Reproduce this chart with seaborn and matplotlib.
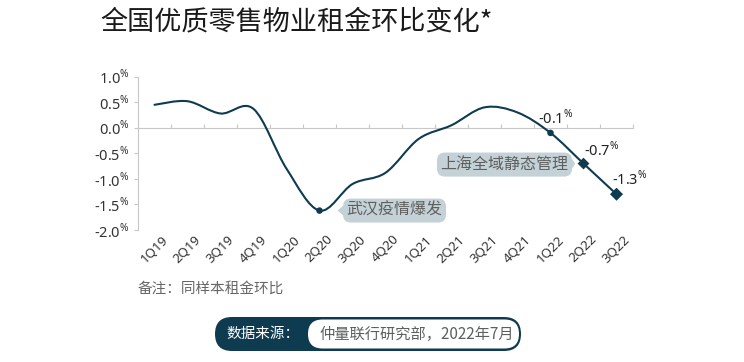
import numpy as np
import seaborn as sns
import matplotlib.pyplot as plt
from matplotlib.path import Path
from matplotlib.patches import PathPatch, FancyBboxPatch

# --- data ---
quarters = ["1Q19", "2Q19", "3Q19", "4Q19", "1Q20", "2Q20", "3Q20", "4Q20",
            "1Q21", "2Q21", "3Q21", "4Q21", "1Q22", "2Q22", "3Q22"]
rent_change = [0.45, 0.52, 0.28, 0.37, -0.80, -1.62, -1.10, -0.88,
               -0.22, 0.05, 0.40, 0.30, -0.10, -0.70, -1.30]
y_ticks = [1.0, 0.5, 0.0, -0.5, -1.0, -1.5, -2.0]
value_labels = {"1Q22": "-0.1", "2Q22": "-0.7", "3Q22": "-1.3"}

title = "全国优质零售物业租金环比变化*"
note = "备注：同样本租金环比"
source_head = "数据来源："
source_body = "仲量联行研究部，2022年7月"

LINE = "#0f3b50"
BOX = "#c4d2d7"
GREY_TXT = "#5f5f5f"
AXIS = "#c8c8c8"

sns.set_theme(style="white")
plt.rcParams["font.family"] = ["Noto Sans CJK SC", "DejaVu Sans"]
plt.rcParams["mathtext.fontset"] = "custom"
plt.rcParams["mathtext.rm"] = "Noto Sans"

fig = plt.figure(figsize=(7.44, 3.62), dpi=100)
ax = fig.add_axes([138 / 744, 1 - 230 / 362, 495 / 744, 153.3 / 362])

# smooth curve through the points (Catmull-Rom as cubic Bezier segments)
xs = np.arange(len(quarters), dtype=float)
ys = np.array(rent_change)
px = np.concatenate([[xs[0]], xs, [xs[-1]]])
py = np.concatenate([[ys[0]], ys, [ys[-1]]])
verts = [(xs[0], ys[0])]
codes = [Path.MOVETO]
for i in range(1, len(px) - 2):
    c1 = (px[i] + (px[i + 1] - px[i - 1]) / 6, py[i] + (py[i + 1] - py[i - 1]) / 6)
    c2 = (px[i + 1] - (px[i + 2] - px[i]) / 6, py[i + 1] - (py[i + 2] - py[i]) / 6)
    verts += [c1, c2, (px[i + 1], py[i + 1])]
    codes += [Path.CURVE4] * 3
ax.add_patch(PathPatch(Path(verts, codes), fc="none", ec=LINE, lw=1.5,
                       capstyle="round", zorder=3))

# highlighted points
idx_circle = [quarters.index("2Q20"), quarters.index("1Q22")]
sns.scatterplot(x=xs[idx_circle], y=ys[idx_circle], ax=ax, color=LINE,
                marker="o", s=22, edgecolor="none", zorder=4)
idx_diam = [quarters.index("2Q22"), quarters.index("3Q22")]
sns.scatterplot(x=xs[idx_diam], y=ys[idx_diam], ax=ax, color=LINE,
                marker="D", s=[36, 44], edgecolor="none", zorder=4, legend=False)

# value labels with superscript %
offsets = {"1Q22": (5, 5, "center"), "2Q22": (0, 4, "left"), "3Q22": (-5, 5, "left")}
for q, lab in value_labels.items():
    i = quarters.index(q)
    dx, dy, ha = offsets[q]
    ax.annotate(lab + r"$^{\%}$", (xs[i], ys[i]), xytext=(dx, dy),
                textcoords="offset pixels", ha=ha, va="bottom",
                fontsize=10.5, color="#222222", family=["Noto Sans", "DejaVu Sans"])

# callout boxes
i = quarters.index("2Q20")
ax.annotate("武汉疫情爆发", (xs[i], ys[i]), xytext=(75, 0), textcoords="offset pixels",
            ha="center", va="center", fontsize=11.5, color=GREY_TXT,
            bbox=dict(boxstyle="round,pad=0.22,rounding_size=0.5", fc=BOX, ec="none"),
            arrowprops=dict(arrowstyle="wedge,tail_width=0.6,shrink_factor=0.5",
                            fc=BOX, ec="none", shrinkA=0, shrinkB=13))
i = quarters.index("2Q22")
ax.annotate("上海全域静态管理", (xs[i], ys[i]), xytext=(-79, -1), textcoords="offset pixels",
            ha="center", va="center", fontsize=11.5, color=GREY_TXT,
            bbox=dict(boxstyle="round,pad=0.22,rounding_size=0.5", fc=BOX, ec="none"),
            arrowprops=dict(arrowstyle="wedge,tail_width=0.6,shrink_factor=0.5",
                            fc=BOX, ec="none", shrinkA=0, shrinkB=6))

# axes styling
ax.set_xlim(-0.5, len(quarters) - 0.5)
ax.set_ylim(-2.0, 1.0)
ax.set_yticks(y_ticks)
ax.set_yticklabels([f"{v:.1f}" + r"$^{\%}$" for v in y_ticks],
                   family=["Noto Sans", "DejaVu Sans"], fontsize=10.5, color="#333333")
ax.set_xticks(xs)
ax.set_xticklabels(quarters, rotation=45, ha="center", fontsize=9.5, color="#333333",
                   family=["Noto Sans", "DejaVu Sans"])
ax.tick_params(axis="x", length=0, pad=2)
ax.tick_params(axis="y", length=3, width=0.8, color=AXIS, pad=3, left=True)
for s in ["top", "right", "bottom"]:
    ax.spines[s].set_visible(False)
ax.spines["left"].set_color(AXIS)
ax.spines["left"].set_linewidth(0.8)
ax.grid(False)
ax.set_facecolor("none")

# zero line with quarter boundary ticks
zero = ax.secondary_xaxis(2 / 3)
zero.set_xticks(np.arange(-0.5, len(quarters), 1.0))
zero.set_xticklabels([])
zero.tick_params(axis="x", length=3, width=0.8, color=AXIS, direction="out")
for sp in zero.spines.values():
    sp.set_color(AXIS)
    sp.set_linewidth(0.8)

# title, note and source pill
fig.text(100 / 744, 1 - 22 / 362, title, fontsize=19.5, color="#1a1a1a",
         ha="left", va="center")
fig.text(138 / 744, 1 - 289 / 362, note, fontsize=10.5, color="#666666",
         ha="left", va="center")

deco = fig.add_axes([0, 0, 1, 1], zorder=-1)
deco.set_xlim(0, 744)
deco.set_ylim(0, 362)
deco.axis("off")
deco.add_patch(FancyBboxPatch((215, 362 - 351), 306, 34,
                              boxstyle="round,pad=0,rounding_size=17",
                              fc=LINE, ec="none"))
deco.add_patch(FancyBboxPatch((308, 362 - 348.5), 211, 29,
                              boxstyle="round,pad=0,rounding_size=14.5",
                              fc="white", ec="none"))
deco.text(263, 362 - 334, source_head, fontsize=10.5, color="white", ha="center", va="center")
deco.text(417, 362 - 334, source_body, fontsize=11, color=GREY_TXT, ha="center", va="center")

fig.savefig("out.png", dpi=100, facecolor="white")
